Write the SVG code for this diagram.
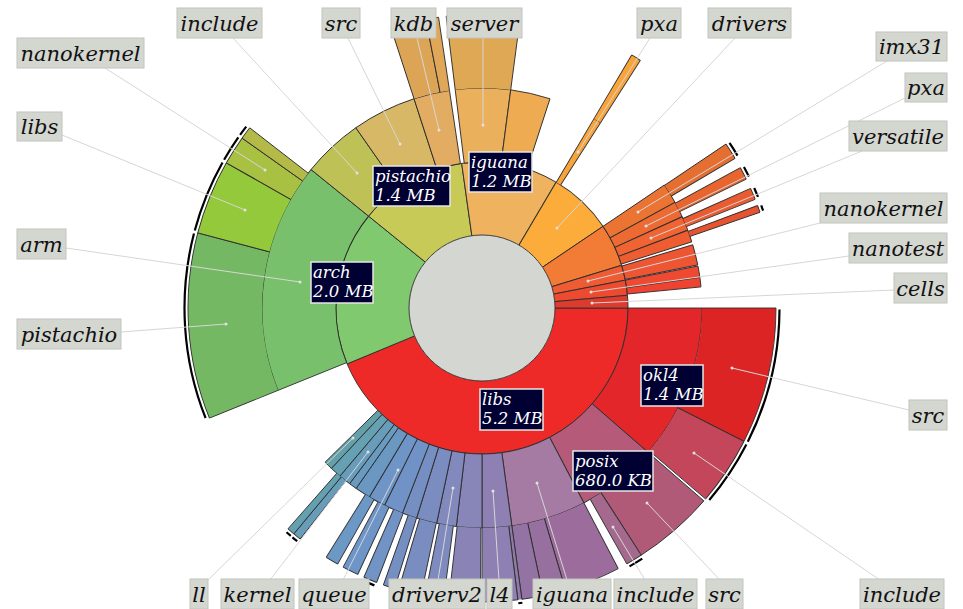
<svg xmlns="http://www.w3.org/2000/svg" width="963" height="609" viewBox="0 0 963 609">
<style>
circle{fill:none}
.c1{stroke-width:73}
.c2{stroke-width:74}
.c3{stroke-width:74}
.e{fill:none;stroke:#2e2e2e;stroke-width:0.9}
.cap{fill:none;stroke:#000;stroke-width:2.2}
.ld{stroke:#d6d6d6;stroke-width:1;fill:none}
.dot circle{fill:#e2e2e2}
.hub{fill:#d4d6d1;stroke:#2e2e2e;stroke-width:0.9}
.ob rect{fill:#d4d6d0;stroke:#c2c4be;stroke-width:1}
.ob text{font-family:"DejaVu Serif","Liberation Serif",serif;font-style:italic;font-size:21px;fill:#111;text-anchor:middle}
.ib rect{fill:#000033;stroke:#e6e6e6;stroke-width:1.5}
.ib text{font-family:"DejaVu Serif","Liberation Serif",serif;font-style:italic;font-size:16.5px;fill:#fff}
</style>
<rect width="963" height="609" fill="#fff"/>
<g id="sunburst" transform="translate(482 308)">
<!-- ring 1 -->
<g id="libs" transform="rotate(0)"><circle r="109.5" class="c1" stroke="#ee2a28" pathLength="360" stroke-dasharray="157.5 360"/><circle r="146" class="e" pathLength="360" stroke-dasharray="157.5 360"/><path class="e" d="M73 0H146"/><path class="e" d="M73 0H146" transform="rotate(157.5)"/></g>
<g id="arch" transform="rotate(157.5)"><circle r="109.5" class="c1" stroke="#80c96f" pathLength="360" stroke-dasharray="61.5 360"/><circle r="146" class="e" pathLength="360" stroke-dasharray="61.5 360"/><path class="e" d="M73 0H146"/><path class="e" d="M73 0H146" transform="rotate(61.5)"/></g>
<g id="pistachio" transform="rotate(219)"><circle r="109.5" class="c1" stroke="#c7ca56" pathLength="360" stroke-dasharray="43 360"/><circle r="146" class="e" pathLength="360" stroke-dasharray="43 360"/><path class="e" d="M73 0H146"/><path class="e" d="M73 0H146" transform="rotate(43)"/></g>
<g id="iguana" transform="rotate(262)"><circle r="109.5" class="c1" stroke="#efb25e" pathLength="360" stroke-dasharray="38.5 360"/><circle r="146" class="e" pathLength="360" stroke-dasharray="38.5 360"/><path class="e" d="M73 0H146"/><path class="e" d="M73 0H146" transform="rotate(38.5)"/></g>
<g id="drivers" transform="rotate(300.5)"><circle r="109.5" class="c1" stroke="#fbac3b" pathLength="360" stroke-dasharray="25.5 360"/><circle r="146" class="e" pathLength="360" stroke-dasharray="25.5 360"/><path class="e" d="M73 0H146"/><path class="e" d="M73 0H146" transform="rotate(25.5)"/></g>
<g id="platform" transform="rotate(326)"><circle r="109.5" class="c1" stroke="#f27b35" pathLength="360" stroke-dasharray="17 360"/><circle r="146" class="e" pathLength="360" stroke-dasharray="17 360"/><path class="e" d="M73 0H146"/><path class="e" d="M73 0H146" transform="rotate(17)"/></g>
<g id="nanokernel-r" transform="rotate(343)"><circle r="109.5" class="c1" stroke="#ef5b33" pathLength="360" stroke-dasharray="6 360"/><circle r="146" class="e" pathLength="360" stroke-dasharray="6 360"/><path class="e" d="M73 0H146"/><path class="e" d="M73 0H146" transform="rotate(6)"/></g>
<g id="nanotest" transform="rotate(349)"><circle r="109.5" class="c1" stroke="#ed4a30" pathLength="360" stroke-dasharray="6 360"/><circle r="146" class="e" pathLength="360" stroke-dasharray="6 360"/><path class="e" d="M73 0H146"/><path class="e" d="M73 0H146" transform="rotate(6)"/></g>
<g id="cells" transform="rotate(355)"><circle r="109.5" class="c1" stroke="#dc3b2e" pathLength="360" stroke-dasharray="5 360"/><circle r="146" class="e" pathLength="360" stroke-dasharray="5 360"/><path class="e" d="M73 0H146"/><path class="e" d="M73 0H146" transform="rotate(5)"/></g>
<!-- ring 2 -->
<g id="okl4" transform="rotate(0)"><circle r="183" class="c2" stroke="#e3262a" pathLength="360" stroke-dasharray="41 360"/><circle r="146" class="e" pathLength="360" stroke-dasharray="41 360"/><circle r="220" class="e" pathLength="360" stroke-dasharray="41 360"/><path class="e" d="M146 0H220"/><path class="e" d="M146 0H220" transform="rotate(41)"/></g>
<g id="posix" transform="rotate(41)"><circle r="183" class="c2" stroke="#b55b79" pathLength="360" stroke-dasharray="21.4 360"/><circle r="146" class="e" pathLength="360" stroke-dasharray="21.4 360"/><circle r="220" class="e" pathLength="360" stroke-dasharray="21.4 360"/><path class="e" d="M146 0H220"/><path class="e" d="M146 0H220" transform="rotate(21.4)"/></g>
<g id="iguana-libs" transform="rotate(62.4)"><circle r="183" class="c2" stroke="#a57aa3" pathLength="360" stroke-dasharray="19.8 360"/><circle r="146" class="e" pathLength="360" stroke-dasharray="19.8 360"/><circle r="220" class="e" pathLength="360" stroke-dasharray="19.8 360"/><path class="e" d="M146 0H220"/><path class="e" d="M146 0H220" transform="rotate(19.8)"/></g>
<g id="l4" transform="rotate(82.2)"><circle r="183" class="c2" stroke="#8e80b2" pathLength="360" stroke-dasharray="7.8 360"/><circle r="146" class="e" pathLength="360" stroke-dasharray="7.8 360"/><circle r="220" class="e" pathLength="360" stroke-dasharray="7.8 360"/><path class="e" d="M146 0H220"/><path class="e" d="M146 0H220" transform="rotate(7.8)"/></g>
<g id="b1" transform="rotate(90)"><circle r="183" class="c2" stroke="#8886b8" pathLength="360" stroke-dasharray="6.7 360"/><circle r="146" class="e" pathLength="360" stroke-dasharray="6.7 360"/><circle r="220" class="e" pathLength="360" stroke-dasharray="6.7 360"/><path class="e" d="M146 0H220"/><path class="e" d="M146 0H220" transform="rotate(6.7)"/></g>
<g id="driverv2" transform="rotate(96.7)"><circle r="183" class="c2" stroke="#8189bd" pathLength="360" stroke-dasharray="5.2 360"/><circle r="146" class="e" pathLength="360" stroke-dasharray="5.2 360"/><circle r="220" class="e" pathLength="360" stroke-dasharray="5.2 360"/><path class="e" d="M146 0H220"/><path class="e" d="M146 0H220" transform="rotate(5.2)"/></g>
<g id="b3" transform="rotate(101.9)"><circle r="183" class="c2" stroke="#7b8cc0" pathLength="360" stroke-dasharray="5.4 360"/><circle r="146" class="e" pathLength="360" stroke-dasharray="5.4 360"/><circle r="220" class="e" pathLength="360" stroke-dasharray="5.4 360"/><path class="e" d="M146 0H220"/><path class="e" d="M146 0H220" transform="rotate(5.4)"/></g>
<g id="b4" transform="rotate(107.3)"><circle r="183" class="c2" stroke="#768fc3" pathLength="360" stroke-dasharray="3.9 360"/><circle r="146" class="e" pathLength="360" stroke-dasharray="3.9 360"/><circle r="220" class="e" pathLength="360" stroke-dasharray="3.9 360"/><path class="e" d="M146 0H220"/><path class="e" d="M146 0H220" transform="rotate(3.9)"/></g>
<g id="b5" transform="rotate(111.2)"><circle r="183" class="c2" stroke="#7192c6" pathLength="360" stroke-dasharray="5.1 360"/><circle r="146" class="e" pathLength="360" stroke-dasharray="5.1 360"/><circle r="220" class="e" pathLength="360" stroke-dasharray="5.1 360"/><path class="e" d="M146 0H220"/><path class="e" d="M146 0H220" transform="rotate(5.1)"/></g>
<g id="queue" transform="rotate(116.3)"><circle r="183" class="c2" stroke="#6e95c6" pathLength="360" stroke-dasharray="4.5 360"/><circle r="146" class="e" pathLength="360" stroke-dasharray="4.5 360"/><circle r="220" class="e" pathLength="360" stroke-dasharray="4.5 360"/><path class="e" d="M146 0H220"/><path class="e" d="M146 0H220" transform="rotate(4.5)"/></g>
<g id="b7" transform="rotate(120.8)"><circle r="183" class="c2" stroke="#6b97c3" pathLength="360" stroke-dasharray="4.1 360"/><circle r="146" class="e" pathLength="360" stroke-dasharray="4.1 360"/><circle r="220" class="e" pathLength="360" stroke-dasharray="4.1 360"/><path class="e" d="M146 0H220"/><path class="e" d="M146 0H220" transform="rotate(4.1)"/></g>
<g id="b8" transform="rotate(124.9)"><circle r="183" class="c2" stroke="#699ac0" pathLength="360" stroke-dasharray="2.1 360"/><circle r="146" class="e" pathLength="360" stroke-dasharray="2.1 360"/><circle r="220" class="e" pathLength="360" stroke-dasharray="2.1 360"/><path class="e" d="M146 0H220"/><path class="e" d="M146 0H220" transform="rotate(2.1)"/></g>
<g id="kernel" transform="rotate(127)"><circle r="183" class="c2" stroke="#679cba" pathLength="360" stroke-dasharray="3.2 360"/><circle r="146" class="e" pathLength="360" stroke-dasharray="3.2 360"/><circle r="220" class="e" pathLength="360" stroke-dasharray="3.2 360"/><path class="e" d="M146 0H220"/><path class="e" d="M146 0H220" transform="rotate(3.2)"/></g>
<g id="b10" transform="rotate(130.2)"><circle r="183" class="c2" stroke="#65a0b3" pathLength="360" stroke-dasharray="3 360"/><circle r="146" class="e" pathLength="360" stroke-dasharray="3 360"/><circle r="220" class="e" pathLength="360" stroke-dasharray="3 360"/><path class="e" d="M146 0H220"/><path class="e" d="M146 0H220" transform="rotate(3)"/></g>
<g id="ll" transform="rotate(133.2)"><circle r="183" class="c2" stroke="#64a0aa" pathLength="360" stroke-dasharray="2.3 360"/><circle r="146" class="e" pathLength="360" stroke-dasharray="2.3 360"/><circle r="220" class="e" pathLength="360" stroke-dasharray="2.3 360"/><path class="e" d="M146 0H220"/><path class="e" d="M146 0H220" transform="rotate(2.3)"/></g>
<g id="arm" transform="rotate(158)"><circle r="183" class="c2" stroke="#79c06c" pathLength="360" stroke-dasharray="61 360"/><circle r="146" class="e" pathLength="360" stroke-dasharray="61 360"/><circle r="220" class="e" pathLength="360" stroke-dasharray="61 360"/><path class="e" d="M146 0H220"/><path class="e" d="M146 0H220" transform="rotate(61)"/></g>
<g id="include-p" transform="rotate(219)"><circle r="183" class="c2" stroke="#bec156" pathLength="360" stroke-dasharray="16 360"/><circle r="146" class="e" pathLength="360" stroke-dasharray="16 360"/><circle r="220" class="e" pathLength="360" stroke-dasharray="16 360"/><path class="e" d="M146 0H220"/><path class="e" d="M146 0H220" transform="rotate(16)"/></g>
<g id="src-p" transform="rotate(235)"><circle r="183" class="c2" stroke="#d7b866" pathLength="360" stroke-dasharray="17 360"/><circle r="146" class="e" pathLength="360" stroke-dasharray="17 360"/><circle r="220" class="e" pathLength="360" stroke-dasharray="17 360"/><path class="e" d="M146 0H220"/><path class="e" d="M146 0H220" transform="rotate(17)"/></g>
<g id="kdb" transform="rotate(252)"><circle r="183" class="c2" stroke="#e2ad62" pathLength="360" stroke-dasharray="9.5 360"/><circle r="146" class="e" pathLength="360" stroke-dasharray="9.5 360"/><circle r="220" class="e" pathLength="360" stroke-dasharray="9.5 360"/><path class="e" d="M146 0H220"/><path class="e" d="M146 0H220" transform="rotate(9.5)"/></g>
<g id="server" transform="rotate(263)"><circle r="183" class="c2" stroke="#ebb05c" pathLength="360" stroke-dasharray="14.5 360"/><circle r="146" class="e" pathLength="360" stroke-dasharray="14.5 360"/><circle r="220" class="e" pathLength="360" stroke-dasharray="14.5 360"/><path class="e" d="M146 0H220"/><path class="e" d="M146 0H220" transform="rotate(14.5)"/></g>
<g id="iguana-2" transform="rotate(277.5)"><circle r="183" class="c2" stroke="#eeab51" pathLength="360" stroke-dasharray="10.5 360"/><circle r="146" class="e" pathLength="360" stroke-dasharray="10.5 360"/><circle r="220" class="e" pathLength="360" stroke-dasharray="10.5 360"/><path class="e" d="M146 0H220"/><path class="e" d="M146 0H220" transform="rotate(10.5)"/></g>
<g id="pxa-d" transform="rotate(300.6)"><circle r="183" class="c2" stroke="#f9a43a" pathLength="360" stroke-dasharray="2 360"/><circle r="220" class="e" pathLength="360" stroke-dasharray="2 360"/><path class="e" d="M146 0H220"/><path class="e" d="M146 0H220" transform="rotate(2)"/></g>
<g id="imx31" transform="rotate(326)"><circle r="183" class="c2" stroke="#ec7433" pathLength="360" stroke-dasharray="5.3 360"/><circle r="146" class="e" pathLength="360" stroke-dasharray="5.3 360"/><circle r="220" class="e" pathLength="360" stroke-dasharray="5.3 360"/><path class="e" d="M146 0H220"/><path class="e" d="M146 0H220" transform="rotate(5.3)"/></g>
<g id="pxa-p" transform="rotate(331.3)"><circle r="183" class="c2" stroke="#ed6b33" pathLength="360" stroke-dasharray="4.2 360"/><circle r="146" class="e" pathLength="360" stroke-dasharray="4.2 360"/><circle r="220" class="e" pathLength="360" stroke-dasharray="4.2 360"/><path class="e" d="M146 0H220"/><path class="e" d="M146 0H220" transform="rotate(4.2)"/></g>
<g id="versatile" transform="rotate(335.5)"><circle r="183" class="c2" stroke="#ef6432" pathLength="360" stroke-dasharray="3.8 360"/><circle r="146" class="e" pathLength="360" stroke-dasharray="3.8 360"/><circle r="220" class="e" pathLength="360" stroke-dasharray="3.8 360"/><path class="e" d="M146 0H220"/><path class="e" d="M146 0H220" transform="rotate(3.8)"/></g>
<g id="r2d" transform="rotate(339.3)"><circle r="183" class="c2" stroke="#ee5c31" pathLength="360" stroke-dasharray="3.2 360"/><circle r="146" class="e" pathLength="360" stroke-dasharray="3.2 360"/><circle r="220" class="e" pathLength="360" stroke-dasharray="3.2 360"/><path class="e" d="M146 0H220"/><path class="e" d="M146 0H220" transform="rotate(3.2)"/></g>
<g id="nk-child" transform="rotate(343.3)"><circle r="183" class="c2" stroke="#ee5532" pathLength="360" stroke-dasharray="5.4 360"/><circle r="146" class="e" pathLength="360" stroke-dasharray="5.4 360"/><circle r="220" class="e" pathLength="360" stroke-dasharray="5.4 360"/><path class="e" d="M146 0H220"/><path class="e" d="M146 0H220" transform="rotate(5.4)"/></g>
<g id="nt-a" transform="rotate(349)"><circle r="183" class="c2" stroke="#ef4a31" pathLength="360" stroke-dasharray="3 360"/><circle r="146" class="e" pathLength="360" stroke-dasharray="3 360"/><circle r="220" class="e" pathLength="360" stroke-dasharray="3 360"/><path class="e" d="M146 0H220"/><path class="e" d="M146 0H220" transform="rotate(3)"/></g>
<g id="nt-b" transform="rotate(352)"><circle r="183" class="c2" stroke="#ef4230" pathLength="360" stroke-dasharray="2.5 360"/><circle r="146" class="e" pathLength="360" stroke-dasharray="2.5 360"/><circle r="220" class="e" pathLength="360" stroke-dasharray="2.5 360"/><path class="e" d="M146 0H220"/><path class="e" d="M146 0H220" transform="rotate(2.5)"/></g>
<!-- ring 3 -->
<g id="src-o" transform="rotate(0)"><circle r="257" class="c3" stroke="#dc2424" pathLength="360" stroke-dasharray="27 360"/><circle r="294" class="e" pathLength="360" stroke-dasharray="27 360"/><path class="e" d="M220 0H294"/><path class="e" d="M220 0H294" transform="rotate(27)"/></g>
<g id="include-o" transform="rotate(27)"><circle r="257" class="c3" stroke="#c4465b" pathLength="360" stroke-dasharray="13.5 360"/><circle r="294" class="e" pathLength="360" stroke-dasharray="13.5 360"/><path class="e" d="M220 0H294"/><path class="e" d="M220 0H294" transform="rotate(13.5)"/></g>
<g id="src-px" transform="rotate(41)"><circle r="257" class="c3" stroke="#b05a77" pathLength="360" stroke-dasharray="16.2 360"/><circle r="294" class="e" pathLength="360" stroke-dasharray="16.2 360"/><path class="e" d="M220 0H294"/><path class="e" d="M220 0H294" transform="rotate(16.2)"/></g>
<g id="include-px" transform="rotate(57.2)"><circle r="257" class="c3" stroke="#a4698d" pathLength="360" stroke-dasharray="3.3 360"/><circle r="294" class="e" pathLength="360" stroke-dasharray="3.3 360"/><path class="e" d="M220 0H294"/><path class="e" d="M220 0H294" transform="rotate(3.3)"/></g>
<g id="ig3a" transform="rotate(62.4)"><circle r="257" class="c3" stroke="#9c6d9c" pathLength="360" stroke-dasharray="11.1 360"/><circle r="294" class="e" pathLength="360" stroke-dasharray="11.1 360"/><path class="e" d="M220 0H294"/><path class="e" d="M220 0H294" transform="rotate(11.1)"/></g>
<g id="ig3b" transform="rotate(73.5)"><circle r="257" class="c3" stroke="#97709f" pathLength="360" stroke-dasharray="4.5 360"/><circle r="294" class="e" pathLength="360" stroke-dasharray="4.5 360"/><path class="e" d="M220 0H294"/><path class="e" d="M220 0H294" transform="rotate(4.5)"/></g>
<g id="ig3c" transform="rotate(78)"><circle r="257" class="c3" stroke="#9373a3" pathLength="360" stroke-dasharray="4.2 360"/><circle r="294" class="e" pathLength="360" stroke-dasharray="4.2 360"/><path class="e" d="M220 0H294"/><path class="e" d="M220 0H294" transform="rotate(4.2)"/></g>
<g id="l4-thin" transform="rotate(82.2)"><circle r="257" class="c3" stroke="#8f7aaa" pathLength="360" stroke-dasharray="0.8 360"/><path class="e" d="M220 0H294"/><path class="e" d="M220 0H294" transform="rotate(0.8)"/></g>
<g id="l4c" transform="rotate(83)"><circle r="257" class="c3" stroke="#8e80b3" pathLength="360" stroke-dasharray="7 360"/><circle r="294" class="e" pathLength="360" stroke-dasharray="7 360"/><path class="e" d="M220 0H294"/><path class="e" d="M220 0H294" transform="rotate(7)"/></g>
<g id="dv3" transform="rotate(90.3)"><circle r="257" class="c3" stroke="#8a84b6" pathLength="360" stroke-dasharray="6.2 360"/><circle r="294" class="e" pathLength="360" stroke-dasharray="6.2 360"/><path class="e" d="M220 0H294"/><path class="e" d="M220 0H294" transform="rotate(6.2)"/></g>
<g id="bar1" transform="rotate(97.5)"><circle r="257" class="c3" stroke="#7f8abe" pathLength="360" stroke-dasharray="3.7 360"/><circle r="294" class="e" pathLength="360" stroke-dasharray="3.7 360"/><path class="e" d="M220 0H294"/><path class="e" d="M220 0H294" transform="rotate(3.7)"/></g>
<g id="bar2" transform="rotate(102)"><circle r="257" class="c3" stroke="#7a8dc1" pathLength="360" stroke-dasharray="4.5 360"/><circle r="294" class="e" pathLength="360" stroke-dasharray="4.5 360"/><path class="e" d="M220 0H294"/><path class="e" d="M220 0H294" transform="rotate(4.5)"/></g>
<g id="bar3" transform="rotate(107.3)"><circle r="257" class="c3" stroke="#768fc3" pathLength="360" stroke-dasharray="2.3 360"/><circle r="294" class="e" pathLength="360" stroke-dasharray="2.3 360"/><path class="e" d="M220 0H294"/><path class="e" d="M220 0H294" transform="rotate(2.3)"/></g>
<g id="bar4" transform="rotate(111)"><circle r="257" class="c3" stroke="#7193c6" pathLength="360" stroke-dasharray="2.7 360"/><circle r="294" class="e" pathLength="360" stroke-dasharray="2.7 360"/><path class="e" d="M220 0H294"/><path class="e" d="M220 0H294" transform="rotate(2.7)"/></g>
<g id="bar5" transform="rotate(115)"><circle r="257" class="c3" stroke="#6e95c7" pathLength="360" stroke-dasharray="3.2 360"/><circle r="294" class="e" pathLength="360" stroke-dasharray="3.2 360"/><path class="e" d="M220 0H294"/><path class="e" d="M220 0H294" transform="rotate(3.2)"/></g>
<g id="bar6" transform="rotate(119.4)"><circle r="257" class="c3" stroke="#6b98c5" pathLength="360" stroke-dasharray="2.6 360"/><circle r="294" class="e" pathLength="360" stroke-dasharray="2.6 360"/><path class="e" d="M220 0H294"/><path class="e" d="M220 0H294" transform="rotate(2.6)"/></g>
<g id="bar7" transform="rotate(128.2)"><circle r="257" class="c3" stroke="#679db8" pathLength="360" stroke-dasharray="1.6 360"/><circle r="294" class="e" pathLength="360" stroke-dasharray="1.6 360"/><path class="e" d="M220 0H294"/><path class="e" d="M220 0H294" transform="rotate(1.6)"/></g>
<g id="bar8" transform="rotate(129.8)"><circle r="257" class="c3" stroke="#64a1b0" pathLength="360" stroke-dasharray="1.5 360"/><circle r="294" class="e" pathLength="360" stroke-dasharray="1.5 360"/><path class="e" d="M220 0H294"/><path class="e" d="M220 0H294" transform="rotate(1.5)"/></g>
<g id="pistachio-a" transform="rotate(158)"><circle r="257" class="c3" stroke="#75b864" pathLength="360" stroke-dasharray="36.8 360"/><circle r="294" class="e" pathLength="360" stroke-dasharray="36.8 360"/><path class="e" d="M220 0H294"/><path class="e" d="M220 0H294" transform="rotate(36.8)"/></g>
<g id="libs-a" transform="rotate(194.8)"><circle r="257" class="c3" stroke="#95c93c" pathLength="360" stroke-dasharray="14.8 360"/><circle r="294" class="e" pathLength="360" stroke-dasharray="14.8 360"/><path class="e" d="M220 0H294"/><path class="e" d="M220 0H294" transform="rotate(14.8)"/></g>
<g id="nanokernel-a" transform="rotate(209.6)"><circle r="257" class="c3" stroke="#a9c143" pathLength="360" stroke-dasharray="5.7 360"/><circle r="294" class="e" pathLength="360" stroke-dasharray="5.7 360"/><path class="e" d="M220 0H294"/><path class="e" d="M220 0H294" transform="rotate(5.7)"/></g>
<g id="other-a" transform="rotate(215.3)"><circle r="257" class="c3" stroke="#b3ba47" pathLength="360" stroke-dasharray="2.5 360"/><circle r="294" class="e" pathLength="360" stroke-dasharray="2.5 360"/><path class="e" d="M220 0H294"/><path class="e" d="M220 0H294" transform="rotate(2.5)"/></g>
<g id="kdb3a" transform="rotate(252)"><circle r="257" class="c3" stroke="#dca556" pathLength="360" stroke-dasharray="7 360"/><circle r="294" class="e" pathLength="360" stroke-dasharray="7 360"/><path class="e" d="M220 0H294"/><path class="e" d="M220 0H294" transform="rotate(7)"/></g>
<g id="kdb3b" transform="rotate(259)"><circle r="257" class="c3" stroke="#dfa757" pathLength="360" stroke-dasharray="2.5 360"/><circle r="294" class="e" pathLength="360" stroke-dasharray="2.5 360"/><path class="e" d="M220 0H294"/><path class="e" d="M220 0H294" transform="rotate(2.5)"/></g>
<g id="server3" transform="rotate(263)"><circle r="257" class="c3" stroke="#dea855" pathLength="360" stroke-dasharray="14.5 360"/><circle r="294" class="e" pathLength="360" stroke-dasharray="14.5 360"/><path class="e" d="M220 0H294"/><path class="e" d="M220 0H294" transform="rotate(14.5)"/></g>
<g id="pxa3" transform="rotate(300.6)"><circle r="257" class="c3" stroke="#f9a43a" pathLength="360" stroke-dasharray="2 360"/><circle r="294" class="e" pathLength="360" stroke-dasharray="2 360"/><path class="e" d="M220 0H294"/><path class="e" d="M220 0H294" transform="rotate(2)"/></g>
<g id="imx31-bar" transform="rotate(326.1)"><circle r="257" class="c3" stroke="#e56f31" pathLength="360" stroke-dasharray="3.3 360"/><circle r="294" class="e" pathLength="360" stroke-dasharray="3.3 360"/><path class="e" d="M220 0H294"/><path class="e" d="M220 0H294" transform="rotate(3.3)"/></g>
<g id="pxa-bar" transform="rotate(331.5)"><circle r="257" class="c3" stroke="#e86530" pathLength="360" stroke-dasharray="2.5 360"/><circle r="294" class="e" pathLength="360" stroke-dasharray="2.5 360"/><path class="e" d="M220 0H294"/><path class="e" d="M220 0H294" transform="rotate(2.5)"/></g>
<g id="versatile-bar" transform="rotate(336)"><circle r="257" class="c3" stroke="#ea5c30" pathLength="360" stroke-dasharray="2.3 360"/><circle r="294" class="e" pathLength="360" stroke-dasharray="2.3 360"/><path class="e" d="M220 0H294"/><path class="e" d="M220 0H294" transform="rotate(2.3)"/></g>
<g id="r2d-bar" transform="rotate(339.6)"><circle r="257" class="c3" stroke="#e8532f" pathLength="360" stroke-dasharray="1.4 360"/><circle r="294" class="e" pathLength="360" stroke-dasharray="1.4 360"/><path class="e" d="M220 0H294"/><path class="e" d="M220 0H294" transform="rotate(1.4)"/></g>
<!-- depth caps -->
<g id="caps">
<circle r="297.5" class="cap" pathLength="360" stroke-dasharray="26.4 360" transform="rotate(0.3)"/>
<circle r="297.5" class="cap" pathLength="360" stroke-dasharray="12.9 360" transform="rotate(27.3)"/>
<circle r="297.5" class="cap" pathLength="360" stroke-dasharray="2.9 360" transform="rotate(57.4)"/>
<circle r="297.5" class="cap" pathLength="360" stroke-dasharray="0.8 360" transform="rotate(82.2)"/>
<circle r="297.5" class="cap" pathLength="360" stroke-dasharray="2.3 360" transform="rotate(111.2)"/>
<circle r="297.5" class="cap" pathLength="360" stroke-dasharray="1.2 360" transform="rotate(128.4)"/>
<circle r="297.5" class="cap" pathLength="360" stroke-dasharray="1.1 360" transform="rotate(130)"/>
<circle r="297.5" class="cap" pathLength="360" stroke-dasharray="36.2 360" transform="rotate(158.3)"/>
<circle r="297.5" class="cap" pathLength="360" stroke-dasharray="14.2 360" transform="rotate(195.1)"/>
<circle r="297.5" class="cap" pathLength="360" stroke-dasharray="5.1 360" transform="rotate(209.9)"/>
<circle r="297.5" class="cap" pathLength="360" stroke-dasharray="2 360" transform="rotate(215.6)"/>
<circle r="297.5" class="cap" pathLength="360" stroke-dasharray="2.9 360" transform="rotate(326.3)"/>
<circle r="297.5" class="cap" pathLength="360" stroke-dasharray="2.1 360" transform="rotate(331.7)"/>
<circle r="297.5" class="cap" pathLength="360" stroke-dasharray="1.9 360" transform="rotate(336.2)"/>
<circle r="297.5" class="cap" pathLength="360" stroke-dasharray="1.1 360" transform="rotate(339.8)"/>
</g>
<g id="root"><circle r="73" class="hub"/></g>
</g>
<g id="connectors">
<path class="ld" d="M233 38L357 173M348 38L400 144M417 38L439 130M483 38L483 125M650 38L578 152M735 38L557 228M887 61L638 212M905 98L646 226M862 151L651 238M820 223L588 281M849 256L591 292M894 290L592 303M909 410L732 368M880 580L694 453M720 580L647 503M645 580L613 527M567 580L537 483M499 580L493 491M438 580L453 488M343 580L398 470M270 580L368 452M208 580L353 438M105 68L265 170M62 135L245 210M66 248L300 282M121 332L226 324"/>
<g class="dot"><circle cx="357" cy="173" r="1.5"/><circle cx="400" cy="144" r="1.5"/><circle cx="439" cy="130" r="1.5"/><circle cx="483" cy="125" r="1.5"/><circle cx="578" cy="152" r="1.5"/><circle cx="557" cy="228" r="1.5"/><circle cx="638" cy="212" r="1.5"/><circle cx="646" cy="226" r="1.5"/><circle cx="651" cy="238" r="1.5"/><circle cx="588" cy="281" r="1.5"/><circle cx="591" cy="292" r="1.5"/><circle cx="592" cy="303" r="1.5"/><circle cx="732" cy="368" r="1.5"/><circle cx="694" cy="453" r="1.5"/><circle cx="647" cy="503" r="1.5"/><circle cx="613" cy="527" r="1.5"/><circle cx="537" cy="483" r="1.5"/><circle cx="493" cy="491" r="1.5"/><circle cx="453" cy="488" r="1.5"/><circle cx="398" cy="470" r="1.5"/><circle cx="368" cy="452" r="1.5"/><circle cx="353" cy="438" r="1.5"/><circle cx="265" cy="170" r="1.5"/><circle cx="245" cy="210" r="1.5"/><circle cx="300" cy="282" r="1.5"/><circle cx="226" cy="324" r="1.5"/></g>
</g>
<g id="inner-labels" class="ib">
<g id="lbl-pistachio"><rect x="373" y="166" width="77" height="40"/><text x="375" y="182">pistachio</text><text x="375" y="201">1.4 MB</text></g>
<g id="lbl-iguana"><rect x="469" y="152" width="63" height="40"/><text x="471" y="168">iguana</text><text x="471" y="187">1.2 MB</text></g>
<g id="lbl-arch"><rect x="311" y="262" width="62" height="41"/><text x="313" y="278">arch</text><text x="313" y="297">2.0 MB</text></g>
<g id="lbl-libs"><rect x="480" y="389" width="63" height="41"/><text x="482" y="405">libs</text><text x="482" y="424">5.2 MB</text></g>
<g id="lbl-okl4"><rect x="641" y="365" width="62" height="41"/><text x="643" y="381">okl4</text><text x="643" y="400">1.4 MB</text></g>
<g id="lbl-posix"><rect x="573" y="451" width="80" height="40"/><text x="575" y="467">posix</text><text x="575" y="486">680.0 KB</text></g>
</g>
<g id="outer-labels" class="ob">
<g><rect x="177" y="8" width="85" height="30"/><text x="219.5" y="31">include</text></g>
<g><rect x="322" y="8" width="38" height="30"/><text x="341" y="31">src</text></g>
<g><rect x="391" y="8" width="45" height="30"/><text x="413.5" y="31">kdb</text></g>
<g><rect x="447" y="8" width="75" height="30"/><text x="484.5" y="31">server</text></g>
<g><rect x="637" y="8" width="44" height="30"/><text x="659" y="31">pxa</text></g>
<g><rect x="708" y="8" width="83" height="30"/><text x="749.5" y="31">drivers</text></g>
<g><rect x="876" y="32" width="71" height="29"/><text x="911.5" y="54">imx31</text></g>
<g><rect x="905" y="73" width="42" height="29"/><text x="926" y="95">pxa</text></g>
<g><rect x="849" y="121" width="98" height="30"/><text x="898" y="144">versatile</text></g>
<g><rect x="820" y="193" width="127" height="30"/><text x="883.5" y="216">nanokernel</text></g>
<g><rect x="849" y="233" width="98" height="30"/><text x="898" y="256">nanotest</text></g>
<g><rect x="894" y="273" width="53" height="30"/><text x="920.5" y="296">cells</text></g>
<g><rect x="909" y="400" width="38" height="30"/><text x="928" y="423">src</text></g>
<g><rect x="190" y="579" width="18" height="30"/><text x="199" y="602">ll</text></g>
<g><rect x="221" y="579" width="73" height="30"/><text x="257.5" y="602">kernel</text></g>
<g><rect x="299" y="579" width="70" height="30"/><text x="334" y="602">queue</text></g>
<g><rect x="389" y="579" width="96" height="30"/><text x="437" y="602">driverv2</text></g>
<g><rect x="487" y="579" width="25" height="30"/><text x="499.5" y="602">l4</text></g>
<g><rect x="533" y="579" width="78" height="30"/><text x="572" y="602">iguana</text></g>
<g><rect x="614" y="579" width="83" height="30"/><text x="655.5" y="602">include</text></g>
<g><rect x="706" y="579" width="37" height="30"/><text x="724.5" y="602">src</text></g>
<g><rect x="860" y="579" width="84" height="30"/><text x="902" y="602">include</text></g>
<g><rect x="17" y="38" width="127" height="30"/><text x="80.5" y="61">nanokernel</text></g>
<g><rect x="17" y="112" width="45" height="29"/><text x="39.5" y="134">libs</text></g>
<g><rect x="17" y="229" width="49" height="30"/><text x="41.5" y="252">arm</text></g>
<g><rect x="17" y="319" width="104" height="30"/><text x="69" y="342">pistachio</text></g>
</g>
</svg>
